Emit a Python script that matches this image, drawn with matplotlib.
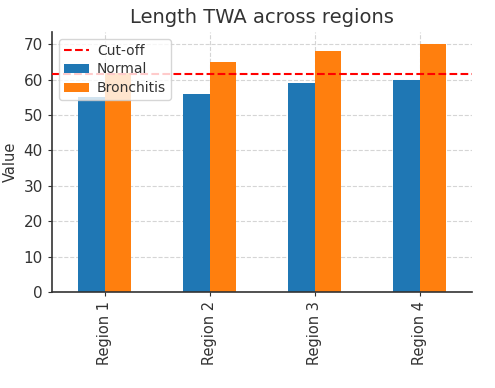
import matplotlib
matplotlib.use("Agg")
import matplotlib.pyplot as plt
import numpy as np

categories = ["Region 1", "Region 2", "Region 3", "Region 4"]
normal = [55, 56, 59, 60]
bronchitis = [62, 65, 68, 70]
cutoff = 61.7

fig = plt.figure(figsize=(4.95, 3.88), dpi=100)
ax = fig.add_axes([0.105, 0.247, 0.849, 0.671])

x = np.arange(len(categories))
w = 0.25
ax.bar(x - w / 2, normal, w, color="#1f77b4", label="Normal", zorder=2)
ax.bar(x + w / 2, bronchitis, w, color="#ff7f0e", label="Bronchitis", zorder=2)
ax.axhline(cutoff, color="red", linestyle="--", linewidth=1.5, label="Cut-off", zorder=3)

ax.set_xlim(-0.5, 3.5)
ax.set_ylim(0, 73.5)
ax.set_xticks(x)
ax.set_xticklabels(categories, rotation=90, fontsize=10.5, color="#333333")
ax.set_yticks(range(0, 71, 10))
ax.tick_params(axis="y", labelsize=11, colors="#333333", length=3)
ax.tick_params(axis="x", colors="#333333", length=3)
ax.grid(True, linestyle="--", color="#d5d5d5", linewidth=0.8, zorder=0)
ax.set_axisbelow(True)
for s in ["top", "right"]:
    ax.spines[s].set_visible(False)
for s in ["left", "bottom"]:
    ax.spines[s].set_color("#333333")
    ax.spines[s].set_linewidth(1.2)
ax.set_ylabel("Value", fontsize=10.5, color="#333333")
ax.set_title("Length TWA across regions", fontsize=14, color="#333333")
ax.legend(loc="upper left", fontsize=10, framealpha=0.8, labelcolor="#333333",
          handlelength=1.8, handletextpad=0.6, borderpad=0.35, labelspacing=0.35)

fig.savefig("out.png", dpi=100)
